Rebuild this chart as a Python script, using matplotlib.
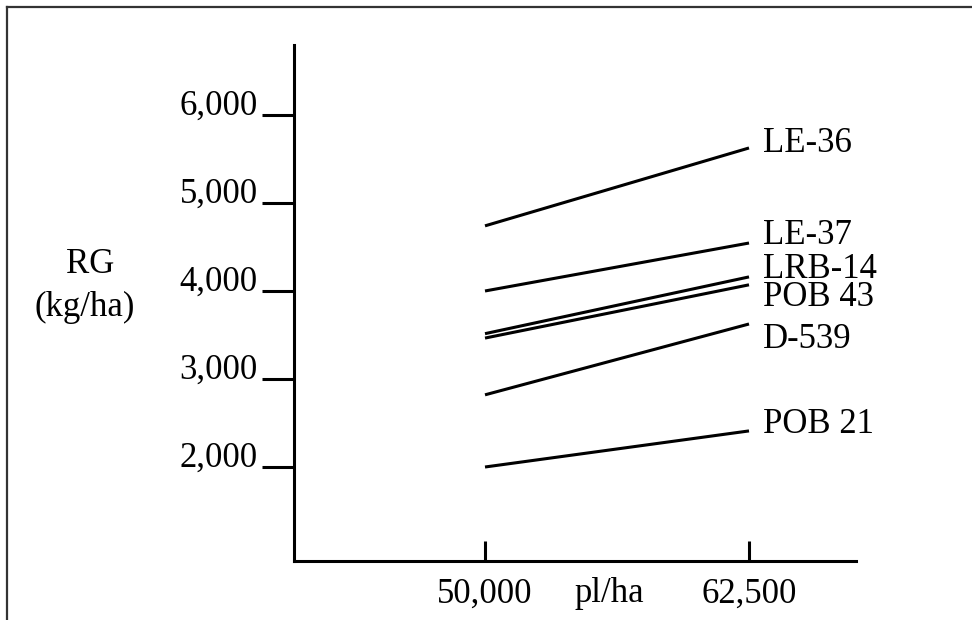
import matplotlib
matplotlib.use("Agg")
import matplotlib.pyplot as plt
from matplotlib.lines import Line2D

# ---- data ----
densities = [50000, 62500]
density_labels = ["50,000", "62,500"]
varieties = ["LE-36", "LE-37", "LRB-14", "POB 43", "D-539", "POB 21"]
yield_50000 = [4740, 4000, 3515, 3465, 2820, 2000]
yield_62500 = [5625, 4545, 4160, 4070, 3625, 2410]
label_y = [5580, 4534, 4148, 3833, 3352, 2386]
yticks = [2000, 3000, 4000, 5000, 6000]
ytick_labels = ["2,000", "3,000", "4,000", "5,000", "6,000"]

W, H = 972, 620
FONT = "Liberation Serif"
FS = 25

fig = plt.figure(figsize=(W / 100, H / 100), dpi=100)
fig.patch.set_facecolor("white")

ax = fig.add_axes([294 / W, 1 - 561 / H, (856 - 294) / W, (561 - 45) / H])
ax.set_xlim(40956, 67566)
ax.set_ylim(932, 6795)

for v, a, b in zip(varieties, yield_50000, yield_62500):
    ax.plot(densities, [a, b], color="black", lw=2.2, solid_capstyle="butt")

for v, ly in zip(varieties, label_y):
    ax.text(densities[1] + 670, ly, v, family=FONT, fontsize=FS,
            ha="left", va="baseline", color="black")

for s in ["top", "right"]:
    ax.spines[s].set_visible(False)
for s in ["left", "bottom"]:
    ax.spines[s].set_linewidth(2.2)
    ax.spines[s].set_color("black")

ax.set_yticks(yticks)
ax.set_yticklabels(ytick_labels, family=FONT, fontsize=FS)
for lab in ax.get_yticklabels():
    lab.set_va("baseline")
ax.tick_params(axis="y", direction="out", length=23, width=2.2, pad=3)

ax.set_xticks(densities)
ax.set_xticklabels(density_labels, family=FONT, fontsize=FS)
ax.tick_params(axis="x", direction="in", length=14.5, width=2.2, pad=12)

# axis titles
fig.text(609 / W, 1 - 602 / H, "pl/ha", family=FONT, fontsize=FS,
         ha="center", va="baseline")
fig.text(90 / W, 1 - 273 / H, "RG", family=FONT, fontsize=FS,
         ha="center", va="baseline")
fig.text(85 / W, 1 - 316 / H, "(kg/ha)", family=FONT, fontsize=FS,
         ha="center", va="baseline")

# frame lines (top and left)
fig.add_artist(Line2D([7 / W, 1], [1 - 7 / H, 1 - 7 / H], color="#333333", lw=1.6,
                      transform=fig.transFigure))
fig.add_artist(Line2D([7 / W, 7 / W], [1 - 7 / H, 0], color="#333333", lw=1.6,
                      transform=fig.transFigure))

fig.savefig("out.png", dpi=100, facecolor="white")
